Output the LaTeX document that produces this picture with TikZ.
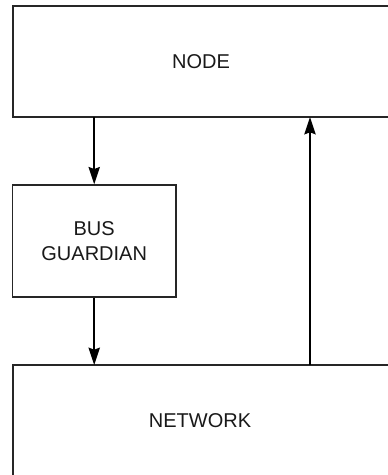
\documentclass[tikz,border=0pt]{standalone}
\usepackage{fontspec}
\setmainfont{Liberation Sans}
\usetikzlibrary{arrows.meta}
\begin{document}
\begin{tikzpicture}[x=0.75pt,y=-0.75pt,
  frame/.style={draw=black!85,line width=1.35pt},
  lbl/.style={font=\fontsize{15}{18.8}\selectfont,text=black!90,align=center,inner sep=0pt},
  flow/.style={draw=black,line width=1.35pt,-{Stealth[length=13pt,width=8.5pt,inset=1.5pt]}}]
\useasboundingbox (0,0) rectangle (387,475);
% NODE block (runs off the right edge)
\draw[frame] (395,6) -- (13,6) -- (13,117) -- (395,117);
\node[lbl] (node) at (201,62) {NODE};
% BUS GUARDIAN block
\node[frame,minimum width=163.5*0.75pt,minimum height=111.5*0.75pt,inner sep=0pt] (bg) at (94.2,241) {};
\node[lbl] (bgtext) at (94.2,241) {BUS\\GUARDIAN};
% NETWORK block (runs off the right and bottom edges)
\draw[frame] (13,480) -- (13,365) -- (395,365);
\node[lbl] (net) at (200,421) {NETWORK};
% connection points on the block edges
\coordinate (nodeL) at (94.2,117);
\coordinate (nodeR) at (310,117);
\coordinate (netL) at (94.2,365);
\coordinate (netR) at (310,365);
% arrows
\draw[flow] (nodeL) -- (bg.north);
\draw[flow] (bg.south) -- (netL);
\draw[flow] (netR) -- (nodeR);
\end{tikzpicture}
\end{document}
